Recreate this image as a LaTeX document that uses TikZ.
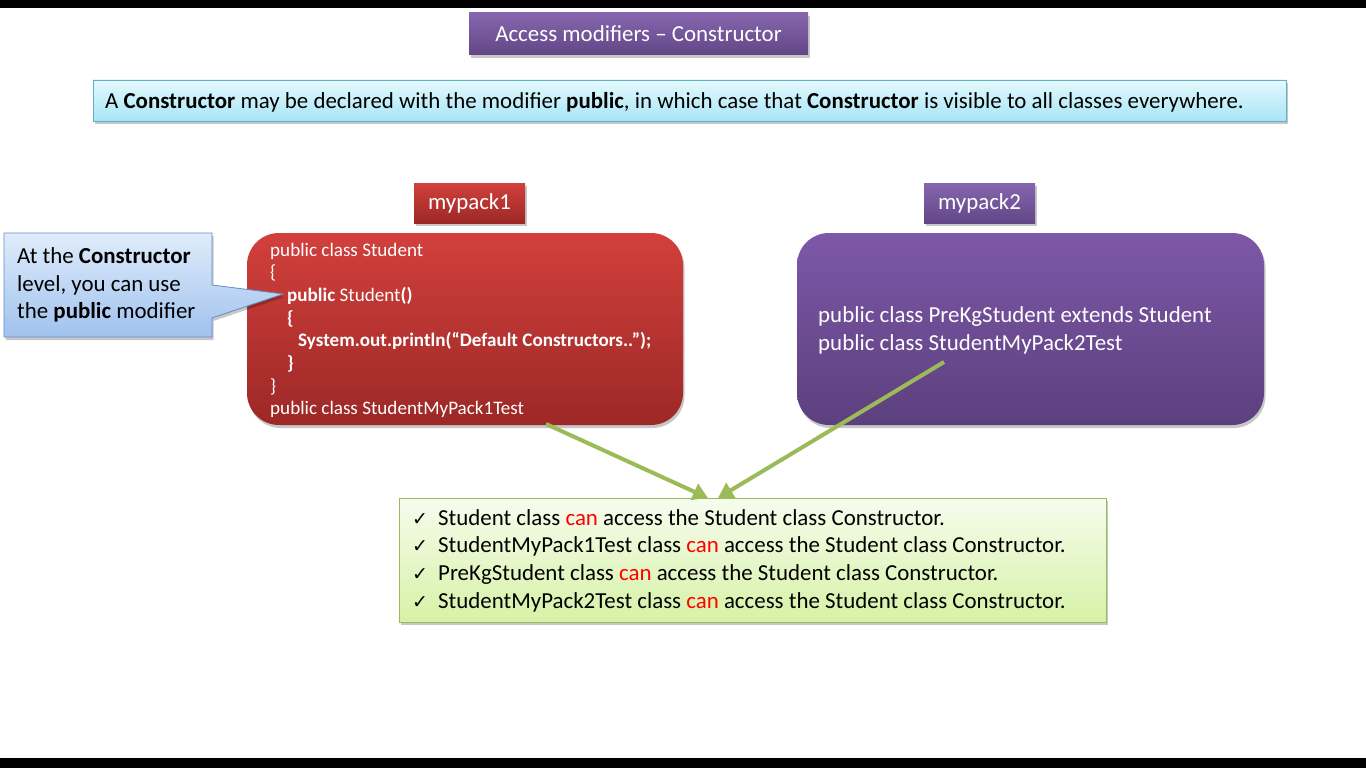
\documentclass[tikz,border=0pt]{standalone}
\usepackage{fontspec}
\setmainfont{Carlito}
\newfontfamily\symfont{DejaVu Sans}
\usetikzlibrary{shadows,arrows.meta}
\definecolor{purpA}{RGB}{134,102,174}
\definecolor{purpB}{RGB}{98,70,134}
\definecolor{bpurpA}{RGB}{126,88,168}
\definecolor{bpurpB}{RGB}{92,64,126}
\definecolor{redA}{RGB}{210,64,60}
\definecolor{redB}{RGB}{156,40,38}
\definecolor{cyanA}{RGB}{228,249,253}
\definecolor{cyanB}{RGB}{168,229,246}
\definecolor{cyanD}{RGB}{100,175,200}
\definecolor{calA}{RGB}{224,236,251}
\definecolor{calB}{RGB}{160,194,238}
\definecolor{calD}{RGB}{100,140,200}
\definecolor{grA}{RGB}{247,252,238}
\definecolor{grB}{RGB}{214,242,166}
\definecolor{grD}{RGB}{155,187,89}
\definecolor{canred}{RGB}{255,0,0}
\begin{document}
\begin{tikzpicture}[x=1pt,y=-1pt,
  shd/.style={drop shadow={shadow xshift=1.5pt,shadow yshift=-3pt,opacity=0.22,fill=black}},
  sbox/.style 2 args={shd,inner sep=0,minimum width=#1,minimum height=#2},
  purplebox/.style={top color=purpA,bottom color=purpB,text=white},
  redbox/.style={top color=redA,bottom color=redB,text=white},
  big/.style={font=\fontsize{22.9}{27}\selectfont},
  code/.style={anchor=base west,inner sep=0,text=white,font=\fontsize{19.1}{23}\selectfont},
  line/.style={anchor=base west,inner sep=0,font=\fontsize{22.9}{27}\selectfont},
  arr/.style={draw=grD,line width=4pt,-{Triangle[length=15pt,width=17pt]}},
  chk/.style={anchor=base west,inner sep=0,font=\symfont\fontsize{19}{19}\selectfont}]
\useasboundingbox (0,0) rectangle (1366,768);
\fill[white] (0,0) rectangle (1366,768);
\fill[black] (0,0) rectangle (1366,8);
\fill[black] (0,758) rectangle (1366,768);

% title
\node[sbox={339pt}{42pt},purplebox,big] (title) at (638.5,34) {Access modifiers – Constructor};

% definition box
\node[sbox={1193pt}{41pt},draw=cyanD,line width=0.8pt,top color=cyanA,bottom color=cyanB] (def) at (689.5,100.5) {};
\node[line] (deftext) at (105,108) {A \textbf{Constructor} may be declared with the modifier \textbf{public}, in which case that \textbf{Constructor} is visible to all classes everywhere.};

% package labels
\node[sbox={111pt}{40pt},redbox,big] (p1) at (469.5,203) {mypack1};
\node[sbox={111pt}{40pt},purplebox,big] (p2) at (979.5,203) {mypack2};

% big boxes
\node[sbox={436pt}{192pt},rounded corners=32pt,top color=redA,bottom color=redB] (rbox) at (465,329) {};
\node[sbox={467pt}{192pt},rounded corners=32pt,top color=bpurpA,bottom color=bpurpB] (pbox) at (1030.5,329) {};

% code lines
\node[code] (c1) at (270,256) {public class Student};
\node[code] (c2) at (270,278.7) {\{};
\node[code] (c3) at (287,301.4) {\textbf{public} Student\textbf{()}};
\node[code] (c4) at (287,324.1) {\textbf{\{}};
\node[code] (c5) at (298,346.8) {\textbf{System.out.println(“Default Constructors..");}};
\node[code] (c6) at (287,369.5) {\textbf{\}}};
\node[code] (c7) at (270,392.2) {\}};
\node[code] (c8) at (270,414.9) {public class StudentMyPack1Test};

\node[line,text=white] (q1) at (818,322) {public class PreKgStudent extends Student};
\node[line,text=white] (q2) at (818,350) {public class StudentMyPack2Test};

% callout
\path[shd,draw=calD,line width=0.8pt,top color=calA,bottom color=calB]
  (4,233) -- (212,233) -- (212,285) -- (283,294) -- (212,318) -- (212,337) -- (4,337) -- cycle;
\node[line] (k1) at (17,263) {At the \textbf{Constructor}};
\node[line] (k2) at (17,291) {level, you can use};
\node[line] (k3) at (17,318) {the \textbf{public} modifier};

% result box
\node[sbox={707pt}{124pt},draw=grD,line width=0.8pt,top color=grA,bottom color=grB] (res) at (752.5,560) {};
\node[chk] (m1) at (412,525) {✓};
\node[chk] (m2) at (412,552.7) {✓};
\node[chk] (m3) at (412,580.4) {✓};
\node[chk] (m4) at (412,608.1) {✓};
\node[line] (r1) at (438,525) {Student class \textcolor{canred}{can} access the Student class Constructor.};
\node[line] (r2) at (438,552.7) {StudentMyPack1Test class \textcolor{canred}{can} access the Student class Constructor.};
\node[line] (r3) at (438,580.4) {PreKgStudent class \textcolor{canred}{can} access the Student class Constructor.};
\node[line] (r4) at (438,608.1) {StudentMyPack2Test class \textcolor{canred}{can} access the Student class Constructor.};

% arrows
\coordinate (s1) at (546,424);
\coordinate (s2) at (944,362);
\coordinate (t1) at (708,498);
\coordinate (t2) at (718,498);
\draw[arr] (s1) -- (t1);
\draw[arr] (s2) -- (t2);
\end{tikzpicture}
\end{document}
